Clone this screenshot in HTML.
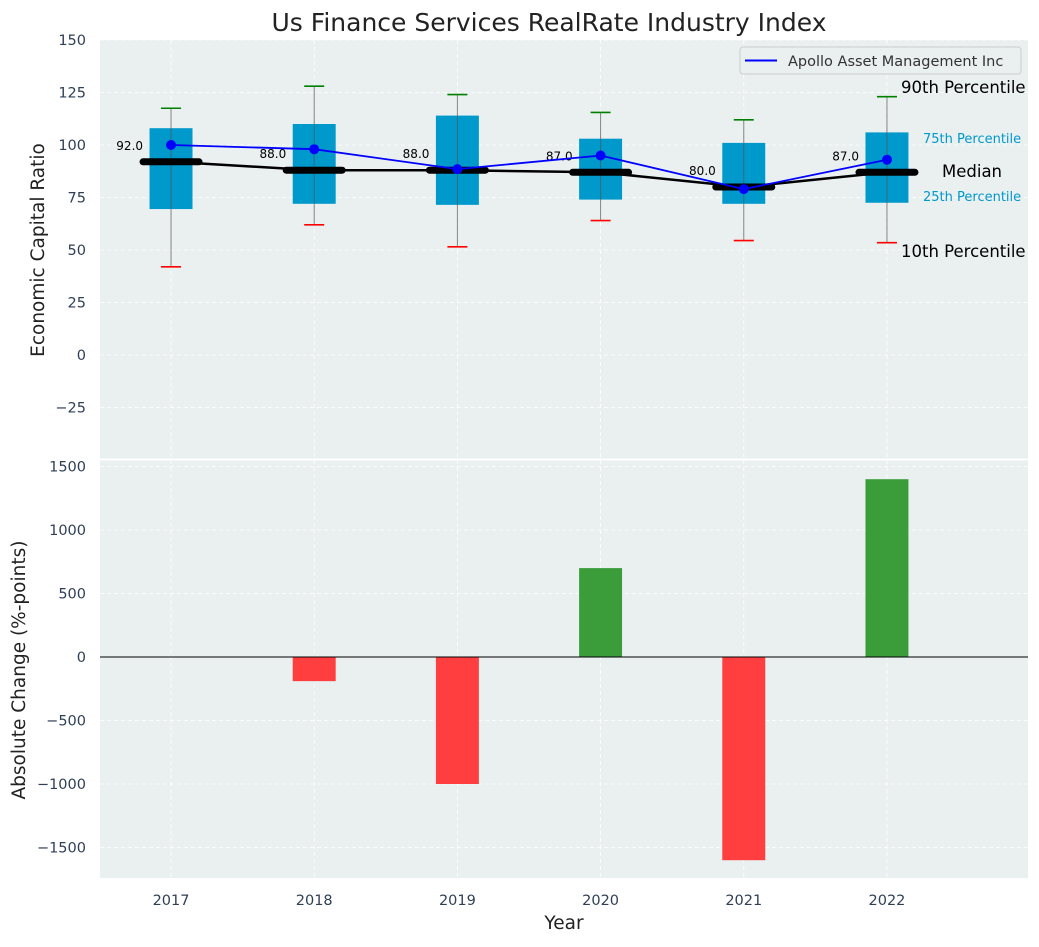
<!DOCTYPE html>
<html><head><meta charset="utf-8"><style>
body{margin:0;background:#fff;font-family:"Liberation Sans","DejaVu Sans",sans-serif}
svg text{font-family:"DejaVu Sans","Liberation Sans",sans-serif}
</style></head><body>
<svg id="c" width="1039" height="942" xmlns="http://www.w3.org/2000/svg"></svg>
<script>
const years=[2017,2018,2019,2020,2021,2022];
const p10=[42,62,51.5,64,54.5,53.5];
const q1=[69.5,72,71.5,74,72,72.5];
const medians=[92,88,88,87,80,87];
const q3=[108,110,114,103,101,106];
const p90=[117.5,128,124,115.5,112,123];
const apollo=[100,98,88.5,95,79,93];
const changes=[0,-190,-1000,700,-1600,1400];
const topTicks=[-25,0,25,50,75,100,125,150];
const botTicks=[-1500,-1000,-500,0,500,1000,1500];

const NS="http://www.w3.org/2000/svg";
const svg=document.getElementById('c');
function el(tag,attrs,parent){const e=document.createElementNS(NS,tag);for(const k in attrs)e.setAttribute(k,attrs[k]);(parent||svg).appendChild(e);return e;}
const fmt=v=>String(v).replace('-','\u2212');
const L=100,R=1028;
const X0=2016.504,X1=2022.985;
const x=v=>L+(v-X0)/(X1-X0)*(R-L);
const yT=v=>40+(150-v)/200*420;
const yB=v=>657-v*(63.5/500);

let b=el('rect',{x:L,y:40,width:R-L,height:420,fill:'#eaeff0'});

b=el('rect',{x:L,y:460,width:R-L,height:418,fill:'#eaeff0'});

el('line',{x1:L,x2:R,y1:459.5,y2:459.5,stroke:'#fff','stroke-width':2});

years.forEach(yr=>{
  el('line',{x1:x(yr),x2:x(yr),y1:40,y2:460,stroke:'#fff','stroke-dasharray':'4,3','stroke-width':0.8});
  el('line',{x1:x(yr),x2:x(yr),y1:460,y2:878,stroke:'#fff','stroke-dasharray':'4,3','stroke-width':0.8});
});
topTicks.forEach(t=>{
  el('line',{x1:L,x2:R,y1:yT(t),y2:yT(t),stroke:'#fff','stroke-dasharray':'4,3','stroke-width':0.8});
  const tx=el('text',{x:86,y:yT(t)+5,'text-anchor':'end','font-size':14.5,fill:'#2f3f55'});tx.textContent=fmt(t);
  
});
botTicks.forEach(t=>{
  el('line',{x1:L,x2:R,y1:yB(t),y2:yB(t),stroke:'#fff','stroke-dasharray':'4,3','stroke-width':0.8});
  const tx=el('text',{x:86,y:yB(t)+5,'text-anchor':'end','font-size':14.5,fill:'#2f3f55'});tx.textContent=fmt(t);
  
});
const bw=0.3*(R-L)/(X1-X0);
years.forEach((yr,i)=>{
  const cx=x(yr);
  let r=el('rect',{x:cx-bw/2,y:yT(q3[i]),width:bw,height:yT(q1[i])-yT(q3[i]),fill:'#0099cc'});
  
  el('line',{x1:cx,x2:cx,y1:yT(p90[i]),y2:yT(p10[i]),stroke:'#555','stroke-width':1,opacity:0.7});
  el('line',{x1:cx-10,x2:cx+10,y1:yT(p90[i]),y2:yT(p90[i]),stroke:'green','stroke-width':1.6});
  el('line',{x1:cx-10,x2:cx+10,y1:yT(p10[i]),y2:yT(p10[i]),stroke:'red','stroke-width':1.6});
});
el('polyline',{points:years.map((yr,i)=>x(yr)+','+yT(medians[i])).join(' '),fill:'none',stroke:'#000','stroke-width':2.5});
years.forEach((yr,i)=>{
  const cx=x(yr);
  let m=el('line',{x1:cx-28,x2:cx+28,y1:yT(medians[i]),y2:yT(medians[i]),stroke:'#000','stroke-width':7,'stroke-linecap':'round'});
  
  const t=el('text',{x:cx-28,y:yT(medians[i])-12,'text-anchor':'end','font-size':12,fill:'#000'});t.textContent=medians[i].toFixed(1);
  
});
let pl=el('polyline',{points:years.map((yr,i)=>x(yr)+','+yT(apollo[i])).join(' '),fill:'none',stroke:'#0000ff','stroke-width':1.8});

years.forEach((yr,i)=>{
  const c=el('circle',{cx:x(yr),cy:yT(apollo[i]),r:5,fill:'#0000ff'});
  
});
[['90th Percentile',901,93,16.5,'#000'],['75th Percentile',923,143,13,'#0099cc'],['Median',942,177,16.5,'#000'],['25th Percentile',923,201,13,'#0099cc'],['10th Percentile',901,257,16.5,'#000']].forEach(a=>{
  const t=el('text',{x:a[1],y:a[2],'font-size':a[3],fill:a[4]});t.textContent=a[0];
  
});
const lg=el('g',{});
el('rect',{x:740,y:47,width:281,height:27,rx:3,fill:'#eaeff0',stroke:'#ccc'},lg);
el('line',{x1:745,x2:777,y1:60.5,y2:60.5,stroke:'#0000ff','stroke-width':2},lg);
{const t=el('text',{x:788,y:66,'font-size':14.5,fill:'#333'},lg);t.textContent='Apollo Asset Management Inc';}

years.forEach((yr,i)=>{
  const v=changes[i];if(v===0)return;
  const r=el('rect',{x:x(yr)-bw/2,y:Math.min(yB(v),yB(0)),width:bw,height:Math.abs(yB(v)-yB(0)),fill:v>0?'#3a9d3a':'#ff3f3f'});
  
});
el('line',{x1:L,x2:R,y1:yB(0),y2:yB(0),stroke:'#000','stroke-width':1});
years.forEach(yr=>{
  const t=el('text',{x:x(yr),y:905,'text-anchor':'middle','font-size':14.5,fill:'#2f3f55'});t.textContent=yr;
  
});
let t=el('text',{x:549,y:31,'text-anchor':'middle','font-size':25,fill:'#222'});t.textContent='Us Finance Services RealRate Industry Index';

t=el('text',{x:564,y:929,'text-anchor':'middle','font-size':18.5,fill:'#222'});t.textContent='Year';

t=el('text',{x:0,y:0,'text-anchor':'middle','font-size':18.5,fill:'#222',transform:'translate(44,250) rotate(-90)'});t.textContent='Economic Capital Ratio';

t=el('text',{x:0,y:0,'text-anchor':'middle','font-size':18.5,fill:'#222',transform:'translate(25,670) rotate(-90)'});t.textContent='Absolute Change (%-points)';

</script>
</body></html>
